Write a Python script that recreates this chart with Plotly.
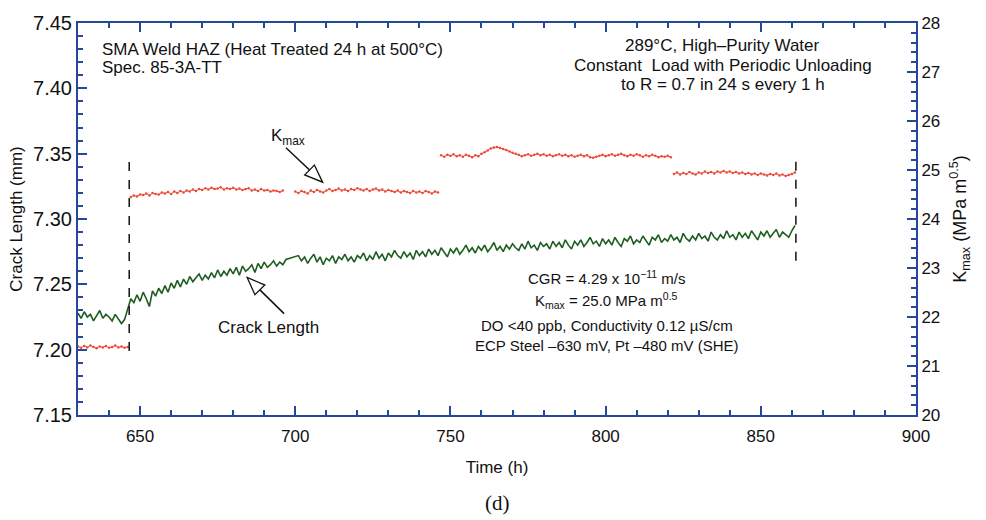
import numpy as np
import plotly.graph_objects as go

# ---------------- data ----------------
# Crack length (mm), hourly readings; gap in logging between 697 h and 701 h
crack_start_1 = 630
crack_mm_1 = [
    7.228, 7.224, 7.229, 7.225, 7.227, 7.222, 7.226, 7.230, 7.224, 7.227,
    7.225, 7.222, 7.227, 7.223, 7.220, 7.223, 7.231, 7.239, 7.236, 7.242,
    7.237, 7.244, 7.239, 7.233, 7.245, 7.241, 7.247, 7.243, 7.249, 7.244,
    7.251, 7.247, 7.253, 7.248, 7.254, 7.250, 7.256, 7.252, 7.255, 7.258,
    7.253, 7.257, 7.254, 7.259, 7.255, 7.261, 7.256, 7.260, 7.257, 7.262,
    7.258, 7.263, 7.257, 7.264, 7.260, 7.262, 7.265, 7.259, 7.266, 7.262,
    7.267, 7.263, 7.265, 7.268, 7.264, 7.267, 7.265, 7.269,
]
crack_start_2 = 701
crack_mm_2 = [
    7.272, 7.268, 7.271, 7.266, 7.270, 7.273, 7.267, 7.271, 7.265, 7.270,
    7.268, 7.272, 7.266, 7.271, 7.269, 7.273, 7.268, 7.271, 7.267, 7.272,
    7.270, 7.274, 7.268, 7.272, 7.269, 7.275, 7.270, 7.273, 7.268, 7.274,
    7.271, 7.276, 7.272, 7.270, 7.275, 7.271, 7.274, 7.269, 7.276, 7.272,
    7.275, 7.271, 7.277, 7.273, 7.276, 7.272, 7.278, 7.274, 7.271, 7.277,
    7.274, 7.278, 7.273, 7.276, 7.280, 7.275, 7.278, 7.274, 7.279, 7.276,
    7.280, 7.275, 7.278, 7.282, 7.276, 7.279, 7.275, 7.280, 7.277, 7.281,
    7.278, 7.276, 7.281, 7.277, 7.283, 7.278, 7.280, 7.276, 7.282, 7.279,
    7.281, 7.277, 7.283, 7.279, 7.282, 7.278, 7.284, 7.280, 7.277, 7.283,
    7.280, 7.284, 7.279, 7.282, 7.286, 7.281, 7.283, 7.279, 7.285, 7.281,
    7.284, 7.280, 7.286, 7.282, 7.279, 7.285, 7.283, 7.287, 7.281, 7.284,
    7.282, 7.287, 7.283, 7.280, 7.286, 7.284, 7.288, 7.282, 7.285, 7.283,
    7.288, 7.284, 7.286, 7.282, 7.289, 7.285, 7.283, 7.287, 7.284, 7.289,
    7.285, 7.287, 7.283, 7.290, 7.286, 7.284, 7.288, 7.285, 7.291, 7.286,
    7.288, 7.284, 7.290, 7.286, 7.289, 7.285, 7.291, 7.287, 7.284, 7.290,
    7.287, 7.291, 7.286, 7.289, 7.292, 7.286, 7.290, 7.288, 7.286, 7.291,
    7.295,
]

# Kmax (MPa m^0.5), hourly readings, one list per load step
kmax_starts = [630, 647, 700, 747, 822]
kmax_segments = [
    [21.40, 21.37, 21.41, 21.38, 21.42, 21.39, 21.36, 21.40, 21.38, 21.41,
     21.37, 21.39, 21.42, 21.38, 21.40, 21.37, 21.39],
    [24.45, 24.48, 24.46, 24.50, 24.49, 24.52, 24.48, 24.53, 24.51, 24.50,
     24.54, 24.52, 24.55, 24.51, 24.56, 24.53, 24.57, 24.54, 24.58, 24.56,
     24.60, 24.57, 24.61, 24.59, 24.63, 24.60, 24.64, 24.61, 24.62, 24.65,
     24.60, 24.63, 24.61, 24.64, 24.60, 24.62, 24.59, 24.61, 24.63, 24.58,
     24.60, 24.57, 24.61, 24.58, 24.59, 24.56, 24.58, 24.57, 24.55, 24.58],
    [24.56, 24.53, 24.57, 24.55, 24.52, 24.58, 24.55, 24.59, 24.56, 24.54,
     24.58, 24.61, 24.57, 24.59, 24.62, 24.58, 24.60, 24.57, 24.61, 24.59,
     24.63, 24.60, 24.58, 24.61, 24.57, 24.60, 24.62, 24.58, 24.60, 24.56,
     24.59, 24.57, 24.55, 24.58, 24.54, 24.57, 24.55, 24.53, 24.57, 24.54,
     24.56, 24.53, 24.57, 24.55, 24.52, 24.56, 24.54],
    [25.30, 25.27, 25.31, 25.29, 25.32, 25.28, 25.30, 25.27, 25.31, 25.29,
     25.26, 25.30, 25.28, 25.33, 25.36, 25.40,
     25.44, 25.46, 25.47, 25.45, 25.43, 25.41,
     25.38, 25.35, 25.33, 25.31, 25.28, 25.30, 25.32, 25.29, 25.31, 25.33,
     25.30, 25.32, 25.29, 25.31, 25.28, 25.30, 25.32, 25.29, 25.31, 25.28,
     25.30, 25.27, 25.29, 25.31, 25.28, 25.30, 25.26, 25.25, 25.27, 25.29,
     25.31, 25.28, 25.30, 25.32, 25.29, 25.31, 25.33, 25.30, 25.28, 25.31,
     25.29, 25.32, 25.30, 25.27, 25.30, 25.28, 25.31, 25.29, 25.26, 25.28,
     25.27, 25.29, 25.26],
    [24.92, 24.95, 24.91, 24.94, 24.92, 24.96, 24.93, 24.91, 24.95, 24.93,
     24.97, 24.94, 24.96, 24.93, 24.97, 24.95, 24.98, 24.95, 24.97, 24.94,
     24.96, 24.93, 24.95, 24.92, 24.94, 24.91, 24.93, 24.90, 24.93, 24.91,
     24.89, 24.92, 24.90, 24.93, 24.89, 24.91, 24.88, 24.90, 24.92, 24.95],
]

# dashed markers bounding the constant-load period (time, y from, y to in mm)
period_times = [646.5, 861.3]
period_y0 = [7.199, 7.268]
period_y1 = [7.350, 7.350]

# axes
x_range = [630, 900]
y_range = [7.15, 7.45]
y2_range = [20, 28]
x_ticks = [650, 700, 750, 800, 850, 900]
y_ticks = [7.15, 7.20, 7.25, 7.30, 7.35, 7.40, 7.45]
y2_ticks = [20, 21, 22, 23, 24, 25, 26, 27, 28]

# ---------------- styling ----------------
W, H = 986, 520
M = dict(l=78, r=70, t=15, b=105)
AXIS_BLUE = "#26479a"
GREEN = "#1d5e20"
RED = "#ec4a36"
INK = "#111111"
SANS = "Liberation Sans, Arial, sans-serif"

px_per_x = (W - M["l"] - M["r"]) / (x_range[1] - x_range[0])
px_per_y = (H - M["t"] - M["b"]) / (y_range[1] - y_range[0])

fig = go.Figure()

# crack length trace (with the straight join across the logging gap)
crack_t = list(crack_start_1 + np.arange(len(crack_mm_1))) + \
    list(crack_start_2 + np.arange(len(crack_mm_2)))
fig.add_trace(go.Scatter(
    x=crack_t, y=crack_mm_1 + crack_mm_2, mode="lines",
    line=dict(color=GREEN, width=1.6), yaxis="y", showlegend=False))

# Kmax traces, one per load step
for start, seg in zip(kmax_starts, kmax_segments):
    fig.add_trace(go.Scatter(
        x=start + np.arange(len(seg)), y=seg, mode="lines+markers",
        line=dict(color=RED, width=1), marker=dict(color=RED, size=2.5),
        yaxis="y2", showlegend=False))

shapes = []
for t, a, b in zip(period_times, period_y0, period_y1):
    shapes.append(dict(type="line", xref="x", yref="y", x0=t, x1=t, y0=a, y1=b,
                       line=dict(color=INK, width=1.5, dash="dash")))


def open_arrow(x_tail, y_tail, x_tip, y_tip, head_len=18, head_half=7):
    """Line with a hollow triangular head, given in data units (x in h, y in mm)."""
    dx = (x_tip - x_tail) * px_per_x
    dy = (y_tip - y_tail) * px_per_y
    n = (dx ** 2 + dy ** 2) ** 0.5
    ux, uy = dx / n, dy / n
    bx, by = -ux * head_len, -uy * head_len
    px_, py_ = -uy * head_half, ux * head_half

    def pt(ox, oy):
        return x_tip + ox / px_per_x, y_tip + oy / px_per_y

    base = pt(bx, by)
    c1 = pt(bx + px_, by + py_)
    c2 = pt(bx - px_, by - py_)
    out = [dict(type="line", xref="x", yref="y", x0=x_tail, y0=y_tail,
                x1=base[0], y1=base[1], line=dict(color=INK, width=1.5))]
    path = "M {} {} L {} {} L {} {} Z".format(x_tip, y_tip, c1[0], c1[1], c2[0], c2[1])
    out.append(dict(type="path", xref="x", yref="y", path=path,
                    fillcolor="white", line=dict(color=INK, width=1.3)))
    return out


shapes += open_arrow(697.0, 7.3545, 708.8, 7.3282)   # to the Kmax record
shapes += open_arrow(696.4, 7.2276, 684.5, 7.2553)   # to the crack-length record

ann = []


def text_at(x, y, txt, size, anchor="center"):
    ann.append(dict(x=x, y=y, xref="x", yref="y", xanchor=anchor, yanchor="middle",
                    showarrow=False, text=txt, font=dict(family=SANS, size=size, color=INK)))


# specimen and test environment
text_at(637.0, 7.4298, "SMA Weld HAZ (Heat Treated 24 h at 500°C)", 17, "left")
text_at(637.0, 7.4163, "Spec. 85-3A-TT", 17, "left")
text_at(837.8, 7.4328, "289°C, High–Purity Water", 17)
text_at(837.8, 7.4178, "Constant  Load with Periodic Unloading", 17)
text_at(837.8, 7.4028, "to R = 0.7 in 24 s every 1 h", 17)

# curve labels
text_at(697.7, 7.3630, "K<sub>max</sub>", 17)
text_at(691.5, 7.2168, "Crack Length", 17)

# result summary
text_at(800.4, 7.2550, "CGR = 4.29 x 10<sup>−11</sup> m/s", 15)
text_at(800.4, 7.2375, "K<sub>max</sub> = 25.0 MPa m<sup>0.5</sup>", 15)
text_at(800.4, 7.2183, "DO <40 ppb, Conductivity 0.12 µS/cm", 15)
text_at(800.4, 7.2033, "ECP Steel –630 mV, Pt –480 mV (SHE)", 15)

ann.append(dict(x=0.5, y=-0.225, xref="paper", yref="paper", showarrow=False,
                text="(d)", yanchor="middle",
                font=dict(family="Liberation Serif, Times New Roman, serif", size=21,
                          color=INK)))

axis_common = dict(showgrid=False, zeroline=False, showline=True, linecolor=AXIS_BLUE,
                   linewidth=2, ticks="inside", tickcolor=AXIS_BLUE, tickwidth=1.5,
                   ticklen=9)

fig.update_layout(
    width=W, height=H, margin=M, paper_bgcolor="white", plot_bgcolor="white",
    shapes=shapes, annotations=ann, showlegend=False,
    xaxis=dict(range=x_range, tickvals=x_ticks, mirror="ticks", ticklabelstandoff=5,
               minor=dict(dtick=10, ticks="inside", ticklen=5, tickcolor=AXIS_BLUE),
               tickfont=dict(family=SANS, size=17, color=INK),
               title=dict(text="Time (h)", standoff=16,
                          font=dict(family=SANS, size=17, color=INK)),
               **axis_common),
    yaxis=dict(range=y_range, tickvals=y_ticks, ticktext=[f"{v:.2f}" for v in y_ticks],
               minor=dict(dtick=0.01, ticks="inside", ticklen=5, tickcolor=AXIS_BLUE),
               tickfont=dict(family=SANS, size=20, color=INK),
               title=dict(text="Crack Length (mm)", standoff=6,
                          font=dict(family=SANS, size=17, color=INK)),
               **axis_common),
    yaxis2=dict(range=y2_range, tickvals=y2_ticks, overlaying="y", side="right",
                minor=dict(dtick=0.2, ticks="inside", ticklen=5, tickcolor=AXIS_BLUE),
                tickfont=dict(family=SANS, size=17, color=INK),
                title=dict(text="K<sub>max</sub> (MPa m<sup>0.5</sup>)", standoff=14,
                           font=dict(family=SANS, size=18, color=INK)),
                **axis_common),
)

fig.write_html("out.html")
